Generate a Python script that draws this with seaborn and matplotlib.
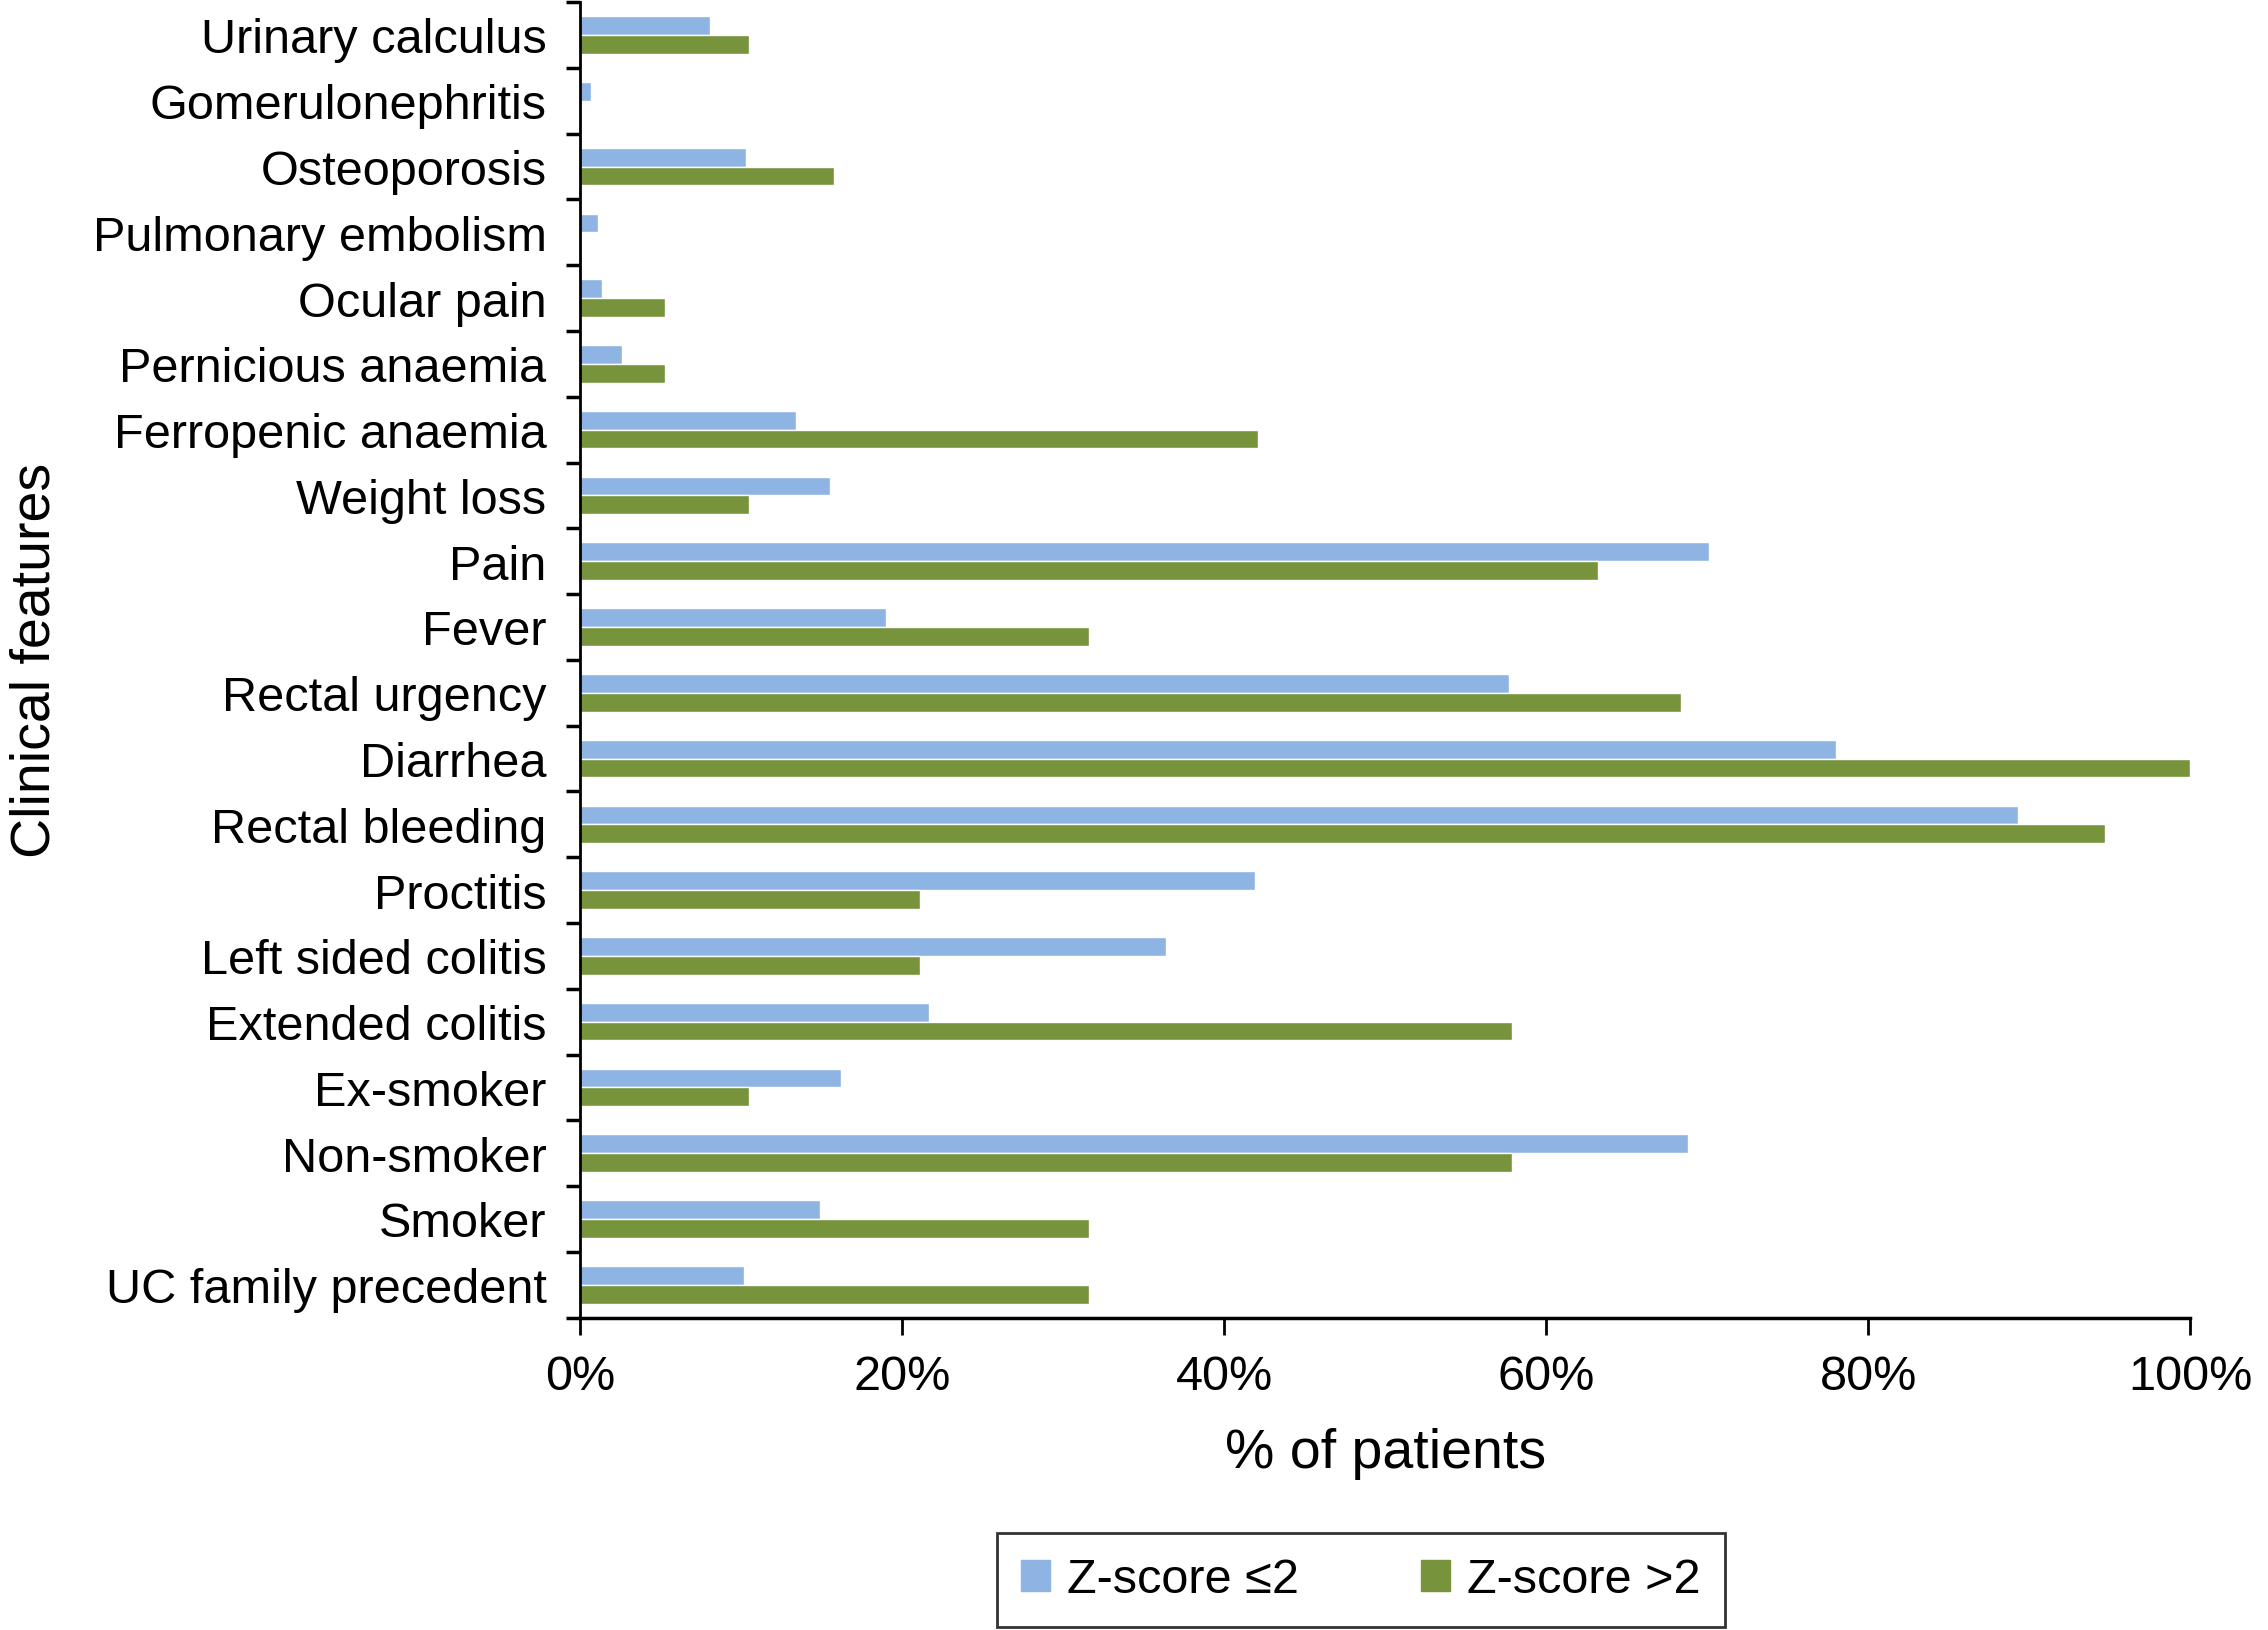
import matplotlib
matplotlib.use("Agg")
import matplotlib.pyplot as plt
from matplotlib.ticker import PercentFormatter, FixedLocator
import seaborn as sns
import pandas as pd

# clinical features, top to bottom as shown
features = ["Urinary calculus", "Gomerulonephritis", "Osteoporosis", "Pulmonary embolism",
            "Ocular pain", "Pernicious anaemia", "Ferropenic anaemia", "Weight loss", "Pain",
            "Fever", "Rectal urgency", "Diarrhea", "Rectal bleeding", "Proctitis",
            "Left sided colitis", "Extended colitis", "Ex-smoker", "Non-smoker", "Smoker",
            "UC family precedent"]

z_low = [8.1, 0.7, 10.3, 1.1, 1.4, 2.6, 13.4, 15.5, 70.1, 19.0,
         57.7, 78.0, 89.3, 41.9, 36.4, 21.7, 16.2, 68.8, 14.9, 10.2]
z_high = [10.5, 0.0, 15.8, 0.0, 5.3, 5.3, 42.1, 10.5, 63.2, 31.6,
          68.4, 100.0, 94.7, 21.1, 21.1, 57.9, 10.5, 57.9, 31.6, 31.6]

groups = ["Z-score \u22642", "Z-score >2"]
colors = ["#8EB4E3", "#77933C"]

df = pd.DataFrame({
    "feature": features * 2,
    "group": [groups[0]] * len(features) + [groups[1]] * len(features),
    "pct": z_low + z_high,
})

sns.set_style("white")
plt.rcParams["font.family"] = ["Liberation Sans", "DejaVu Sans"]
plt.rcParams["text.color"] = "black"
plt.rcParams["axes.labelcolor"] = "black"
plt.rcParams["xtick.color"] = "black"
plt.rcParams["ytick.color"] = "black"

fig = plt.figure(figsize=(22.68, 16.31), dpi=100)
ax = fig.add_axes([0.2557, 0.1915, 0.71, 0.8066])

sns.barplot(data=df, y="feature", x="pct", hue="group", orient="h",
            palette=colors, hue_order=groups, order=features,
            width=0.57, saturation=1, ax=ax)

ax.set_xlim(0, 100)
ax.set_ylim(len(features) - 0.5, -0.5)
ax.set_xticks([0, 20, 40, 60, 80, 100])
ax.xaxis.set_major_formatter(PercentFormatter(xmax=100, decimals=0))

ax.yaxis.set_minor_locator(FixedLocator([i - 0.5 for i in range(len(features) + 1)]))
ax.tick_params(axis="y", which="major", length=0, pad=24, labelsize=35)
ax.tick_params(axis="y", which="minor", length=10, width=2.5, direction="out", left=True)
ax.tick_params(axis="x", which="major", length=12, width=2, direction="out",
               pad=14, labelsize=35, bottom=True)

ax.set_xlabel("% of patients", fontsize=40, labelpad=20)
ax.set_ylabel("Clinical features", fontsize=40)
ax.yaxis.set_label_coords(-0.322, 0.5)

for s in ["top", "right"]:
    ax.spines[s].set_visible(False)
ax.spines["left"].set_color("black")
ax.spines["left"].set_linewidth(2)
ax.spines["bottom"].set_color("black")
ax.spines["bottom"].set_linewidth(2.5)

ax.legend_.remove()
handles = [plt.Rectangle((0, 0), 1, 1, color=c) for c in colors]
leg = fig.legend(handles, groups, loc="lower center", bbox_to_anchor=(0.600, 0.002),
                 ncol=2, fontsize=35, frameon=True, fancybox=False, borderaxespad=0,
                 handlelength=0.6, handleheight=0.6, handletextpad=0.35,
                 columnspacing=2.5, borderpad=0.5)
leg.get_frame().set_edgecolor("black")
leg.get_frame().set_linewidth(2)

fig.savefig("out.png", dpi=100)
